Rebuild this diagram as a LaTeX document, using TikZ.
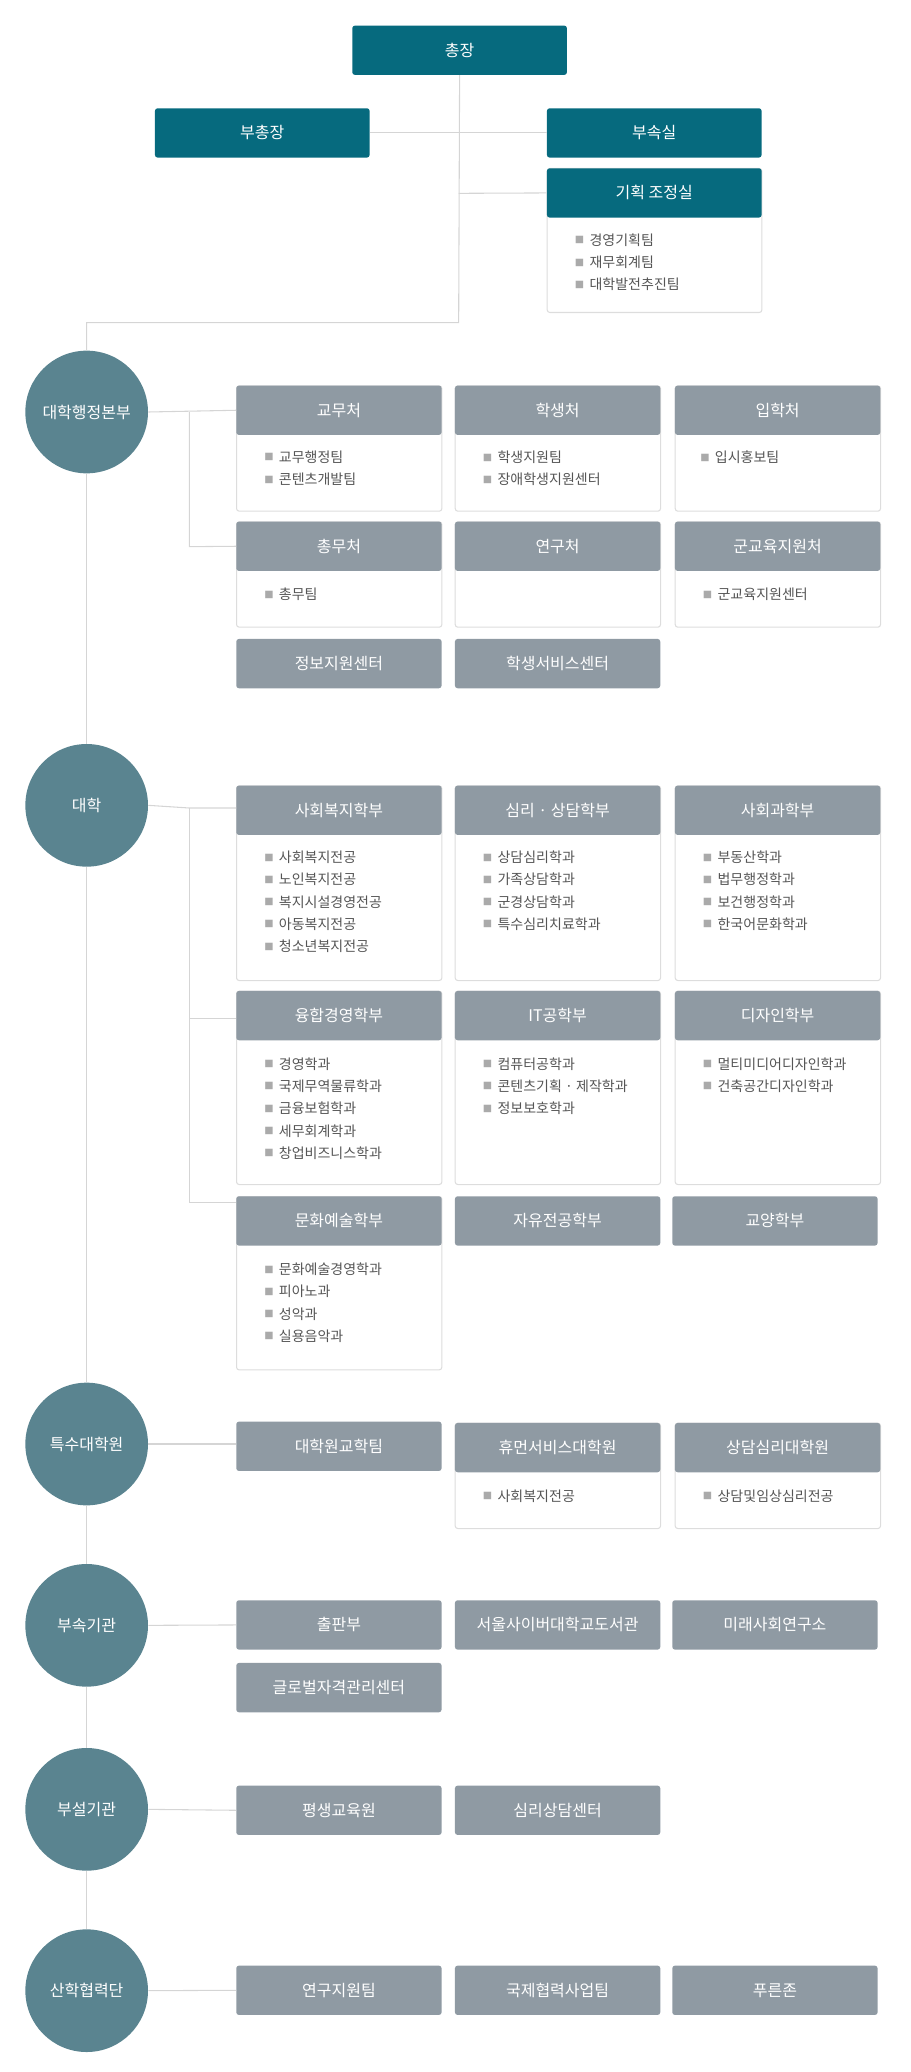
\documentclass[tikz,border=0pt]{standalone}
\usepackage{fontspec}
\setmainfont{Noto Sans CJK KR}
\definecolor{teal1}{HTML}{066A7E}
\definecolor{hgrey}{HTML}{8F9AA3}
\definecolor{circ}{HTML}{5A8490}
\definecolor{lnc}{HTML}{D5D5D5}
\definecolor{bord}{HTML}{DDDDDD}
\definecolor{txt}{HTML}{555555}
\definecolor{bulc}{HTML}{AAAAAA}
\newcommand{\bu}{{\color{bulc}\fontsize{7}{8}\selectfont\raisebox{0.3ex}{■}}\hspace{4pt}}
\begin{document}
\begin{tikzpicture}[x=1pt,y=-1pt,
  top/.style={fill=teal1,text=white,rounded corners=2pt,anchor=north west,minimum width=161pt,minimum height=37pt,inner sep=0pt,font=\fontsize{12}{14}\selectfont},
  hdr/.style={fill=hgrey,text=white,rounded corners=2pt,anchor=north west,minimum width=154pt,minimum height=37pt,inner sep=0pt,font=\fontsize{12}{14}\selectfont},
  bodyb/.style={draw=bord,fill=white,rounded corners=2pt,anchor=north west,minimum width=154pt,inner sep=0pt,line width=0.8pt},
  items/.style={anchor=north west,align=left,text=txt,inner sep=0pt,font=\fontsize{10.5}{16.7}\selectfont},
  circn/.style={circle,fill=circ,text=white,minimum size=92pt,inner sep=0pt,font=\fontsize{12}{14}\selectfont},
  ln/.style={draw=lnc,line width=0.8pt}]
\useasboundingbox (0,0) rectangle (682.5,1554);
% connectors first
\coordinate (j0) at (344,242);
\coordinate (j1) at (65,242);
\coordinate (jv) at (344,99);
\coordinate (jk) at (344,145);
\node[circn] (c1) at (65,309) {대학행정본부};
\node[circn] (c2) at (65,604) {대학};
\node[circn] (c3) at (65,1083) {특수대학원};
\node[circn] (c4) at (65,1219) {부속기관};
\node[circn] (c5) at (65,1357) {부설기관};
\node[circn] (c6) at (65,1493) {산학협력단};
\begin{scope}[on background layer/.style={}]
\end{scope}
% top
\node[top] (ch) at (264,19) {총장};
\node[top] (vp) at (116,81) {부총장};
\node[top] (bs) at (410,81) {부속실};
\node[bodyb,minimum width=161pt,minimum height=108pt] (gkb) at (410,126) {};
\node[top] (gk) at (410,126) {기획 조정실};
\node[items] (gki) at (431,175) {\bu 경영기획팀\\\bu 재무회계팀\\\bu 대학발전추진팀};
\draw[ln] (ch.south) -- (j0) -- (j1) -- (c1.north);
\draw[ln] (vp.east) -- (bs.west);
\draw[ln] (jk) -- (gk.west);
\draw[ln] (c1.south) -- (c2.north);
\draw[ln] (c2.south) -- (c3.north);
\draw[ln] (c3.south) -- (c4.north);
\draw[ln] (c4.south) -- (c5.north);
\draw[ln] (c5.south) -- (c6.north);
% section 1
\node[bodyb,minimum height=94pt] (b11) at (177,289) {};
\node[hdr] (h11) at (177,289) {교무처};
\node[items] at (198,338) {\bu 교무행정팀\\\bu 콘텐츠개발팀};
\node[bodyb,minimum height=94pt] (b12) at (341,289) {};
\node[hdr] (h12) at (341,289) {학생처};
\node[items] at (362,338) {\bu 학생지원팀\\\bu 장애학생지원센터};
\node[bodyb,minimum height=94pt] (b13) at (506,289) {};
\node[hdr] (h13) at (506,289) {입학처};
\node[items] at (525,338) {\bu 입시홍보팀};
\node[bodyb,minimum height=79pt] (b21) at (177,391) {};
\node[hdr] (h21) at (177,391) {총무처};
\node[items] at (198,441) {\bu 총무팀};
\node[bodyb,minimum height=79pt] (b22) at (341,391) {};
\node[hdr] (h22) at (341,391) {연구처};
\node[bodyb,minimum height=79pt] (b23) at (506,391) {};
\node[hdr] (h23) at (506,391) {군교육지원처};
\node[items] at (527,441) {\bu 군교육지원센터};
\node[hdr] (h31) at (177,479) {정보지원센터};
\node[hdr] (h32) at (341,479) {학생서비스센터};
\coordinate (s1a) at (142,309);
\coordinate (s1b) at (142,410);
\draw[ln] (c1.east) -- (h11.west);
\draw[ln] (s1a) -- (s1b) -- (h21.west);
% section 2
\node[bodyb,minimum height=146pt] at (177,589) {};
\node[hdr] (d11) at (177,589) {사회복지학부};
\node[items] at (198,638) {\bu 사회복지전공\\\bu 노인복지전공\\\bu 복지시설경영전공\\\bu 아동복지전공\\\bu 청소년복지전공};
\node[bodyb,minimum height=146pt] at (341,589) {};
\node[hdr] (d12) at (341,589) {심리 · 상담학부};
\node[items] at (362,638) {\bu 상담심리학과\\\bu 가족상담학과\\\bu 군경상담학과\\\bu 특수심리치료학과};
\node[bodyb,minimum height=146pt] at (506,589) {};
\node[hdr] (d13) at (506,589) {사회과학부};
\node[items] at (527,638) {\bu 부동산학과\\\bu 법무행정학과\\\bu 보건행정학과\\\bu 한국어문화학과};
\node[bodyb,minimum height=145pt] at (177,743) {};
\node[hdr] (d21) at (177,743) {융합경영학부};
\node[items] at (198,793) {\bu 경영학과\\\bu 국제무역물류학과\\\bu 금융보험학과\\\bu 세무회계학과\\\bu 창업비즈니스학과};
\node[bodyb,minimum height=145pt] at (341,743) {};
\node[hdr] (d22) at (341,743) {IT공학부};
\node[items] at (362,793) {\bu 컴퓨터공학과\\\bu 콘텐츠기획 · 제작학과\\\bu 정보보호학과};
\node[bodyb,minimum height=145pt] at (506,743) {};
\node[hdr] (d23) at (506,743) {디자인학부};
\node[items] at (527,793) {\bu 멀티미디어디자인학과\\\bu 건축공간디자인학과};
\node[bodyb,minimum height=130pt] at (177,897) {};
\node[hdr] (d31) at (177,897) {문화예술학부};
\node[items] at (198,947) {\bu 문화예술경영학과\\\bu 피아노과\\\bu 성악과\\\bu 실용음악과};
\node[hdr] (d32) at (341,897) {자유전공학부};
\node[hdr] (d33) at (504,897) {교양학부};
\coordinate (s2a) at (142,606);
\coordinate (s2b) at (142,764);
\coordinate (s2c) at (142,902);
\draw[ln] (c2.east) -- (s2a) -- (177,606);
\draw[ln] (s2a) -- (s2c) -- (d31.north west |- s2c);
\draw[ln] (s2b) -- (d21.north west |- s2b);
% section 3
\node[hdr] (e1) at (177,1066) {대학원교학팀};
\node[bodyb,minimum height=79pt] at (341,1067) {};
\node[hdr] (e2) at (341,1067) {휴먼서비스대학원};
\node[items] at (362,1117) {\bu 사회복지전공};
\node[bodyb,minimum height=79pt] at (506,1067) {};
\node[hdr] (e3) at (506,1067) {상담심리대학원};
\node[items] at (527,1117) {\bu 상담및임상심리전공};
\draw[ln] (c3.east) -- (e1.north west |- c3.east);
% section 4
\node[hdr] (f1) at (177,1200) {출판부};
\node[hdr] (f2) at (341,1200) {서울사이버대학교도서관};
\node[hdr] (f3) at (504,1200) {미래사회연구소};
\node[hdr] (f4) at (177,1247) {글로벌자격관리센터};
\draw[ln] (c4.east) -- (f1.west);
% section 5
\node[hdr] (g1) at (177,1339) {평생교육원};
\node[hdr] (g2) at (341,1339) {심리상담센터};
\draw[ln] (c5.east) -- (g1.west);
% section 6
\node[hdr] (k1) at (177,1474) {연구지원팀};
\node[hdr] (k2) at (341,1474) {국제협력사업팀};
\node[hdr] (k3) at (504,1474) {푸른존};
\draw[ln] (c6.east) -- (k1.west);
\end{tikzpicture}
\end{document}
